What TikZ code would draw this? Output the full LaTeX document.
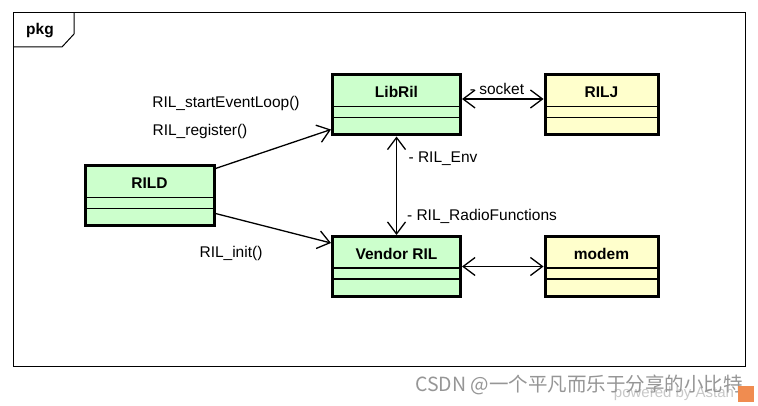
\documentclass[tikz,border=0pt]{standalone}
\usepackage{fontspec}
\setmainfont{Liberation Sans}
\newfontfamily\cjkfont{Noto Sans CJK SC}
\usetikzlibrary{arrows.meta,calc}
\definecolor{clsgreen}{HTML}{CCFFCC}
\definecolor{clsyellow}{HTML}{FFFFCC}
\definecolor{wmgray}{RGB}{150,150,150}
\definecolor{wmlight}{RGB}{200,200,200}
\definecolor{astahorange}{RGB}{240,140,80}
\begin{document}
\begin{tikzpicture}[x=1pt,y=-1pt,
  txt/.style={font=\fontsize{15.5}{18}\selectfont, inner sep=0pt},
  ttl/.style={font=\fontsize{15.5}{18}\selectfont\bfseries, inner sep=0pt},
  cls/.style={draw=black, line width=3pt, minimum height=60pt, inner sep=0pt},
  dvd/.style={draw=black, line width=1.4pt},
  conn/.style={draw=black, line width=1.3pt},
  tip/.style={-{Straight Barb[length=12pt,width=18pt,line width=1.3pt]}},
  tips/.style={{Straight Barb[length=12pt,width=18pt,line width=1.3pt]}-{Straight Barb[length=12pt,width=18pt,line width=1.3pt]}},
]
\useasboundingbox (0,0) rectangle (758,406);
\fill[white] (0,0) rectangle (758,406);
% package frame
\draw[line width=1pt] (13,13) rectangle (745,366);
\draw[line width=1pt] (13,47) -- (62,47) -- (74,34) -- (74,13);
\node[ttl] (pkg) at (40,31) {pkg};
% classes
\node[cls, fill=clsgreen, minimum width=128pt] (libril) at (396.5,105) {};
\node[cls, fill=clsyellow, minimum width=113pt] (rilj) at (601.5,105) {};
\node[cls, fill=clsgreen, minimum width=129pt] (rild) at (149.5,196) {};
\node[cls, fill=clsgreen, minimum width=128pt] (vendor) at (396.5,266.5) {};
\node[cls, fill=clsyellow, minimum width=113pt] (modem) at (601.5,266.5) {};
% titles and dividers
\foreach \n/\t in {libril/LibRil, rilj/RILJ, rild/RILD, vendor/Vendor RIL, modem/modem}{
  \node[ttl] (\n-title) at ($(\n.north)+(0,18.5)$) {\t};
  \draw[dvd] ($(\n.north west)+(1.5,33)$) -- ($(\n.north east)+(-1.5,33)$);
  \draw[dvd] ($(\n.north west)+(1.5,44)$) -- ($(\n.north east)+(-1.5,44)$);
}
% connectors
\draw[conn,tip] ($(rild.north east)+(0,4)$) -- ($(libril.south west)+(0,-7)$);
\draw[conn,tip] ($(rild.south east)+(0,-14)$) -- ($(vendor.north west)+(0,8)$);
\draw[conn,tips] ($(libril.east)+(0,-6)$) -- ($(rilj.west)+(0,-6)$);
\draw[conn,tips] (libril.south) -- (vendor.north);
\draw[conn,tips] (vendor.east) -- (modem.west);
% labels
\node[txt] (l1) at (226,103) {RIL\_startEventLoop()};
\node[txt] (l2) at (200,131) {RIL\_register()};
\node[txt] (l3) at (231,253) {RIL\_init()};
\node[txt] (l4) at (497,89) {- socket};
\node[txt] (l5) at (443,159) {- RIL\_Env};
\node[txt] (l6) at (482,216) {- RIL\_RadioFunctions};
% watermark
\node[inner sep=0pt, text=wmlight, font=\fontsize{15}{18}\selectfont] (wm2) at (674,394) {powered by Astah};
\node[inner sep=0pt, text=wmgray, font=\cjkfont\fontsize{19.5}{22}\selectfont] (wm1) at (579,385) {CSDN @一个平凡而乐于分享的小比特};
\node[fill=astahorange, minimum width=16pt, minimum height=16pt, inner sep=0pt] (icon) at (746,394) {};
\end{tikzpicture}
\end{document}
